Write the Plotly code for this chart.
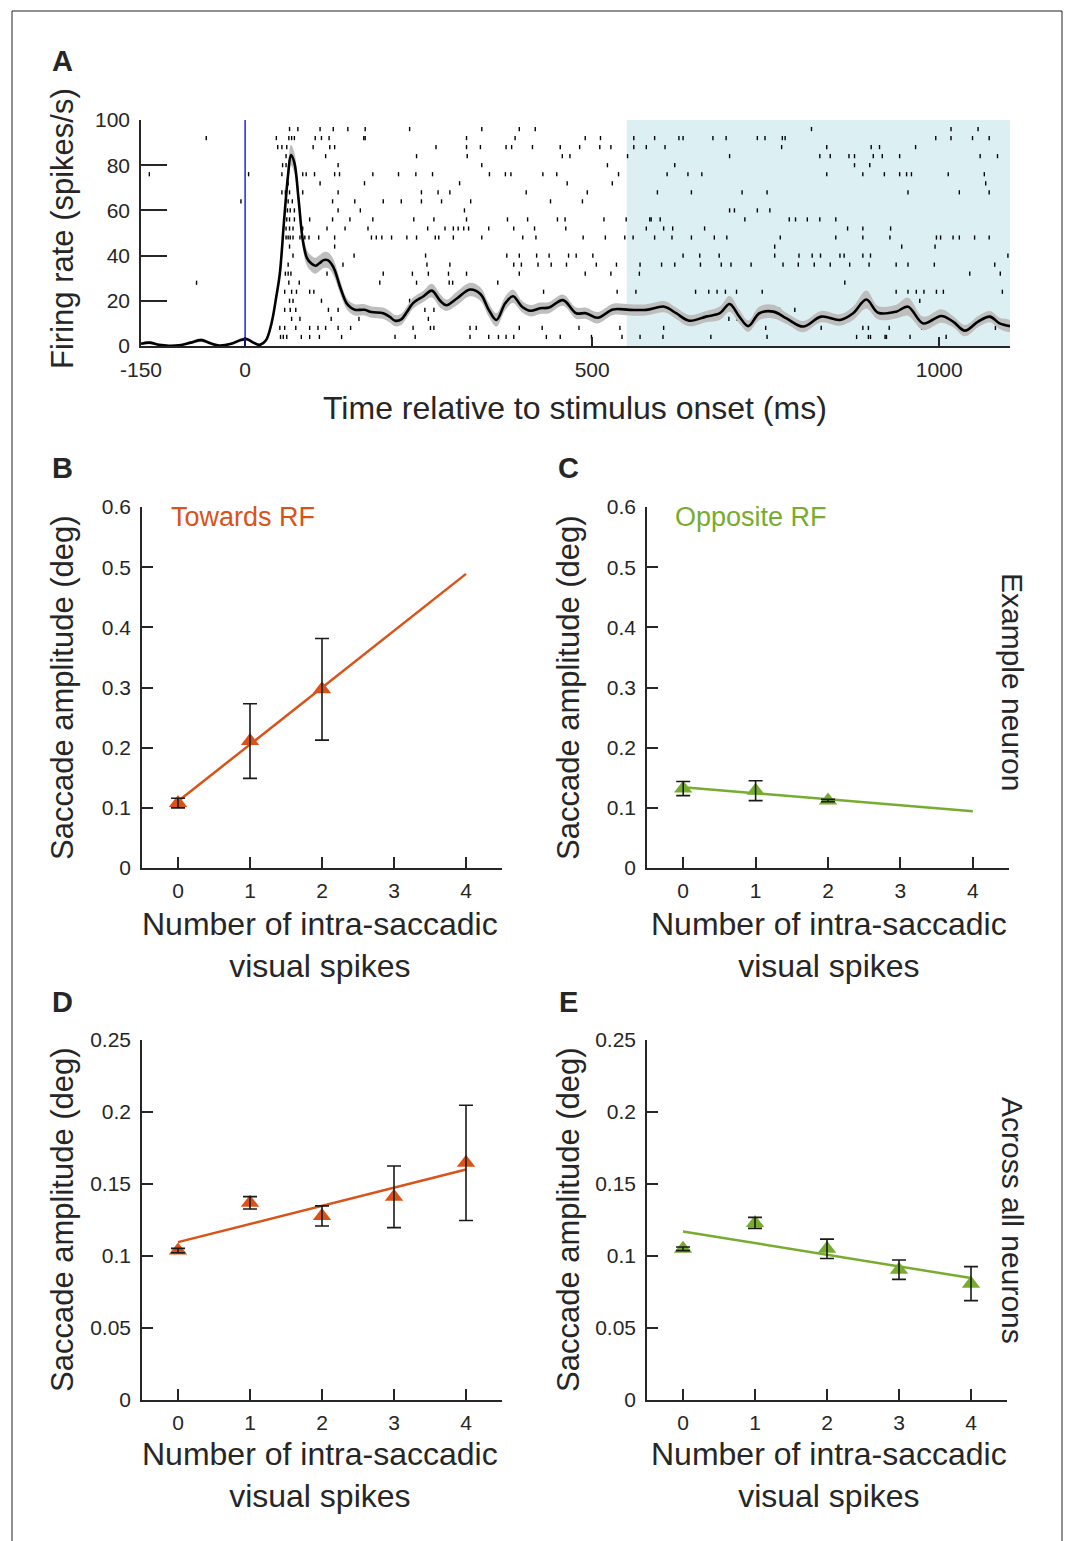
import numpy as np
import plotly.graph_objects as go

W, H = 1065, 1541
FONT = "Liberation Sans, Arial, Helvetica, sans-serif"
AX = "#262626"
ORANGE = "#D95319"
GREEN = "#77AC30"

# ---------------- Panel A data ----------------
rate_t = [-150, -138, -124, -110, -95, -78, -63, -50, -37, -20, -5, 3, 12, 21, 30, 38, 45, 50, 56, 62,
          66, 71, 77, 83, 89, 95, 101, 107, 113, 119, 124, 129, 137, 146, 152, 158, 172, 182, 199, 208,
          216, 225, 233, 242, 257, 269, 281, 290, 305, 324, 339, 351, 362, 375, 386, 399, 411, 425, 438, 458,
          477, 491, 508, 530, 554, 578, 604, 621, 640, 664, 684, 698, 712, 725, 741, 761, 780, 804, 830, 857,
          876, 895, 912, 938, 955, 977, 1003, 1020, 1037, 1056, 1073, 1087, 1102]
rate_mean = [1.0, 1.5, 0.5, 0.1, 0.3, 1.5, 2.6, 1.2, 0.2, 1.0, 2.8, 3.0, 1.5, 0.5, 2.5, 10, 22, 32, 55, 76,
             84.5, 81, 65, 47, 39, 36.6, 35.5, 36.6, 38, 38, 36.5, 33.6, 26, 19, 17, 16, 16, 15, 14.5, 13,
             11.2, 11.8, 15, 19, 22, 24.5, 20, 18, 21, 25, 23, 16, 11.5, 19, 22, 17.4, 15.6, 16.7, 17, 20.3,
             14.5, 14.5, 12.5, 16.2, 16, 16, 17.4, 14.5, 11.2, 13, 14.5, 18.6, 13, 8.8, 14.5, 15.2, 12.2, 8.6, 13, 11.5,
             14.5, 20.6, 14.7, 15.2, 17.4, 10, 13.3, 10.8, 6.8, 10.8, 13, 10, 8.8]
rate_sem = [0.6, 0.7, 0.4, 0.2, 0.3, 0.6, 0.8, 0.6, 0.3, 0.5, 0.8, 0.8, 0.6, 0.4, 0.8, 1.5, 2.0, 2.5, 3.0, 4.0,
            4.5, 4.5, 4.0, 3.5, 3.5, 3.5, 3.5, 3.5, 3.5, 3.5, 3.5, 3.5, 3.0, 2.5, 2.5, 2.5, 2.5, 2.5, 2.5, 2.5,
            2.5, 2.5, 2.5, 2.5, 2.5, 3.0, 3.0, 2.5, 3.0, 3.0, 3.0, 3.0, 3.0, 3.0, 3.0, 2.5, 2.5, 2.5, 2.5, 2.5,
            2.5, 2.5, 2.5, 2.5, 2.5, 2.5, 2.5, 2.5, 2.5, 2.5, 3.0, 3.5, 3.0, 2.5, 3.0, 3.0, 2.5, 2.5, 2.5, 2.5,
            3.0, 4.0, 3.0, 3.0, 4.0, 3.0, 3.0, 2.5, 2.5, 2.5, 2.5, 2.5, 2.5]

# spike times (ms) per trial, trial 1 at top
raster_trials = [
    [64, 76, 108, 127, 148, 173, 237, 341, 395, 418, 816, 1017, 1056],
    [-56, 45, 63, 67, 71, 101, 110, 121, 171, 173, 319, 389, 490, 512, 560, 590, 625, 631, 674, 693, 738, 749,
     774, 778, 995, 1017, 1048, 1072],
    [47, 53, 60, 98, 122, 129, 275, 319, 339, 376, 384, 414, 454, 482, 511, 527, 560, 578, 605, 773, 838, 902,
     914, 966],
    [59, 116, 247, 320, 457, 468, 551, 698, 828, 843, 870, 878, 905, 918, 943, 1059, 1084],
    [54, 59, 134, 341, 522, 619, 878, 900],
    [-138, 5, 53, 62, 83, 88, 100, 129, 136, 184, 221, 246, 270, 352, 375, 383, 429, 449, 538, 608, 638, 658,
     838, 890, 921, 943, 953, 960, 1013, 1065],
    [62, 108, 172, 309, 464, 529, 1067],
    [53, 58, 64, 83, 134, 254, 278, 295, 405, 493, 594, 643, 716, 752, 955, 1029, 1072],
    [-6, 62, 68, 126, 158, 199, 225, 254, 283, 325, 440, 486],
    [61, 65, 71, 134, 166, 316, 698, 705, 738, 756],
    [60, 64, 71, 93, 126, 151, 184, 243, 272, 319, 378, 407, 450, 461, 517, 549, 583, 585, 598, 720, 784, 793,
     810, 828, 851],
    [59, 64, 69, 83, 118, 144, 177, 263, 288, 300, 307, 315, 322, 351, 387, 417, 462, 578, 603, 616, 662, 868,
     890, 930],
    [59, 62, 65, 69, 79, 86, 92, 106, 129, 182, 189, 197, 211, 233, 247, 274, 279, 300, 341, 400, 419, 487, 519,
     547, 559, 590, 615, 643, 676, 694, 771, 851, 890, 929, 996, 1002, 1020, 1029, 1051, 1072],
    [64, 129, 763, 946, 994],
    [69, 112, 116, 157, 260, 377, 395, 420, 438, 466, 477, 501, 631, 655, 683, 763, 798, 817, 829, 857, 863,
     890, 901, 1099],
    [62, 113, 141, 262, 295, 387, 398, 422, 441, 463, 506, 535, 569, 600, 619, 656, 686, 700, 729, 775, 797,
     820, 843, 871, 899, 938, 955, 993, 1080],
    [58, 62, 66, 118, 199, 241, 264, 293, 319, 395, 490, 527, 568, 1044, 1088],
    [-70, 63, 78, 194, 247, 294, 299, 364, 864],
    [57, 67, 74, 93, 99, 430, 536, 563, 649, 668, 680, 692, 708, 745, 938, 955, 967, 978, 996, 1006, 1091],
    [64, 69, 110, 237, 278, 972],
    [57, 65, 73, 120, 134, 259, 272, 770, 792],
    [67, 79, 124, 164, 264, 697, 709],
    [50, 57, 73, 93, 105, 116, 134, 152, 242, 267, 272, 324, 333, 395, 428, 481, 540, 603, 724, 750, 830, 890,
     898, 928, 975, 1081],
    [51, 55, 60, 81, 93, 107, 139, 216, 245, 324, 351, 365, 376, 387, 434, 454, 499, 543, 569, 602, 671, 752,
     881, 898, 901, 922, 924, 958, 1010],
]
stim_onset = 0
analysis_window = [550, 1102]
time_range = [-150, 1102]
time_ticks = [-150, 0, 500, 1000]
time_labels = ["-150", "0", "500", "1000"]
rate_range = [0, 100]
rate_ticks = [0, 20, 40, 60, 80, 100]

# ---------------- Panels B-E data ----------------
n_spikes = [0, 1, 2, 3, 4]
ex_towards_mean = [0.108, 0.211, 0.297]
ex_towards_err = [0.008, 0.062, 0.0845]
ex_opp_mean = [0.132, 0.1285, 0.112]
ex_opp_err = [0.0117, 0.0166, 0.002]
all_towards_mean = [0.1038, 0.1369, 0.1278, 0.1411, 0.1647]
all_towards_err = [0.0015, 0.0043, 0.007, 0.0214, 0.040]
all_opp_mean = [0.105, 0.123, 0.105, 0.0905, 0.0808]
all_opp_err = [0.0013, 0.0038, 0.0067, 0.0067, 0.0118]
ex_amp_ticks = [0, 0.1, 0.2, 0.3, 0.4, 0.5, 0.6]
ex_amp_labels = ["0", "0.1", "0.2", "0.3", "0.4", "0.5", "0.6"]
all_amp_ticks = [0, 0.05, 0.1, 0.15, 0.2, 0.25]
all_amp_labels = ["0", "0.05", "0.1", "0.15", "0.2", "0.25"]


def px(x):
    return x / W


def py(y):
    return 1 - y / H


fig = go.Figure()

# ---- Panel A ----
rx, ry = [], []
for i, trial in enumerate(raster_trials):
    for s in trial:
        rx.append(s)
        ry.append(96 - 4 * i)
fig.add_trace(go.Scatter(x=rx, y=ry, mode="markers", xaxis="x", yaxis="y",
                         marker=dict(symbol="line-ns", size=3, line=dict(width=1.4, color="black")),
                         hoverinfo="skip", showlegend=False))

t = np.array(rate_t, dtype=float)
m = np.array(rate_mean)
s = np.array(rate_sem)
fig.add_trace(go.Scatter(x=np.concatenate([t, t[::-1]]), y=np.concatenate([m + s, (m - s)[::-1]]),
                         mode="lines", fill="toself", fillcolor="#BEBEBE",
                         line=dict(width=0, shape="spline", smoothing=1), xaxis="x", yaxis="y",
                         hoverinfo="skip", showlegend=False))
fig.add_trace(go.Scatter(x=t, y=m, mode="lines", line=dict(color="black", width=2.6, shape="spline", smoothing=1),
                         xaxis="x", yaxis="y", showlegend=False))


def add_panel(xa, ya, means, errs, color):
    xs = n_spikes[:len(means)]
    k, b = np.polyfit(xs, means, 1)
    fx = np.array([n_spikes[0], n_spikes[-1]], dtype=float)
    fig.add_trace(go.Scatter(x=fx, y=k * fx + b, mode="lines", line=dict(color=color, width=2.5),
                             xaxis=xa, yaxis=ya, showlegend=False))
    fig.add_trace(go.Scatter(x=xs, y=means, mode="markers",
                             marker=dict(symbol="triangle-up", size=16, color=color),
                             xaxis=xa, yaxis=ya, showlegend=False))
    fig.add_trace(go.Scatter(x=xs, y=means, mode="markers", marker=dict(size=1, color="rgba(0,0,0,0)"),
                             error_y=dict(type="data", array=errs, visible=True, color="#1a1a1a",
                                          thickness=1.6, width=7),
                             xaxis=xa, yaxis=ya, showlegend=False))


add_panel("x2", "y2", ex_towards_mean, ex_towards_err, ORANGE)
add_panel("x3", "y3", ex_opp_mean, ex_opp_err, GREEN)
add_panel("x4", "y4", all_towards_mean, all_towards_err, ORANGE)
add_panel("x5", "y5", all_opp_mean, all_opp_err, GREEN)

tickfont = dict(family=FONT, size=21, color=AX)
base = dict(showline=True, linecolor=AX, linewidth=1.5, ticks="inside", tickcolor=AX, tickwidth=1.5,
            showgrid=False, zeroline=False, tickfont=tickfont, fixedrange=True, automargin=False)

XS = 3   # x tick label standoff
YS = 5   # y tick label standoff
layout_axes = dict(
    xaxis=dict(base, domain=[px(141), px(1010)], range=time_range, anchor="y", tickvals=time_ticks,
               ticktext=time_labels, ticklen=9, ticklabelstandoff=4),
    yaxis=dict(base, domain=[py(346), py(120)], range=rate_range, anchor="x", tickvals=rate_ticks,
               ticklen=26, ticklabelstandoff=YS),
    xaxis2=dict(base, domain=[px(142), px(502)], range=[-0.5, 4.5], anchor="y2", tickvals=n_spikes,
                ticklen=11, ticklabelstandoff=XS),
    yaxis2=dict(base, domain=[py(868), py(507)], range=[0, 0.6], anchor="x2", tickvals=ex_amp_ticks,
                ticktext=ex_amp_labels, ticklen=11, ticklabelstandoff=YS),
    xaxis3=dict(base, domain=[px(647), px(1009)], range=[-0.5, 4.5], anchor="y3", tickvals=n_spikes,
                ticklen=11, ticklabelstandoff=XS),
    yaxis3=dict(base, domain=[py(868), py(507)], range=[0, 0.6], anchor="x3", tickvals=ex_amp_ticks,
                ticktext=ex_amp_labels, ticklen=11, ticklabelstandoff=YS),
    xaxis4=dict(base, domain=[px(142), px(502)], range=[-0.5, 4.5], anchor="y4", tickvals=n_spikes,
                ticklen=11, ticklabelstandoff=XS),
    yaxis4=dict(base, domain=[py(1400), py(1040)], range=[0, 0.25], anchor="x4", tickvals=all_amp_ticks,
                ticktext=all_amp_labels, ticklen=11, ticklabelstandoff=YS),
    xaxis5=dict(base, domain=[px(647), px(1007)], range=[-0.5, 4.5], anchor="y5", tickvals=n_spikes,
                ticklen=11, ticklabelstandoff=XS),
    yaxis5=dict(base, domain=[py(1400), py(1040)], range=[0, 0.25], anchor="x5", tickvals=all_amp_ticks,
                ticktext=all_amp_labels, ticklen=11, ticklabelstandoff=YS),
)

shapes = [
    dict(type="rect", xref="x", yref="y", x0=analysis_window[0], x1=analysis_window[1],
         y0=rate_range[0], y1=rate_range[1], fillcolor="#DCEFF3", line=dict(width=0), layer="below"),
    dict(type="line", xref="x", yref="y", x0=stim_onset, x1=stim_onset, y0=rate_range[0], y1=rate_range[1],
         line=dict(color="#0000E0", width=1.3), layer="above"),
    dict(type="rect", xref="paper", yref="paper", x0=px(12), x1=px(1062), y0=-0.02, y1=py(11),
         line=dict(color="#222222", width=1), fillcolor="rgba(0,0,0,0)"),
]


def ann(text, x, y, size, color=AX, angle=0, xanchor="center", bold=False):
    if bold:
        text = "<b>" + text + "</b>"
    return dict(text=text, x=px(x), y=py(y), xref="paper", yref="paper", showarrow=False,
                xanchor=xanchor, yanchor="middle", textangle=angle,
                font=dict(family=FONT, size=size, color=color))


TS = 32
annotations = [
    ann("A", 62, 61, 29, bold=True),
    ann("B", 62, 468, 29, bold=True),
    ann("C", 568, 468, 29, bold=True),
    ann("D", 62, 1002, 29, bold=True),
    ann("E", 568, 1002, 29, bold=True),
    ann("Firing rate (spikes/s)", 62, 229, 31, angle=-90),
    ann("Time relative to stimulus onset (ms)", 575, 408, TS),
    ann("Saccade amplitude (deg)", 62, 688, 31, angle=-90),
    ann("Saccade amplitude (deg)", 568, 688, 31, angle=-90),
    ann("Saccade amplitude (deg)", 62, 1220, 31, angle=-90),
    ann("Saccade amplitude (deg)", 568, 1220, 31, angle=-90),
    ann("Towards RF", 169, 517, 27, color=ORANGE, xanchor="left"),
    ann("Opposite RF", 673, 517, 27, color=GREEN, xanchor="left"),
    ann("Number of intra-saccadic<br>visual spikes", 320, 945, TS),
    ann("Number of intra-saccadic<br>visual spikes", 829, 945, TS),
    ann("Number of intra-saccadic<br>visual spikes", 320, 1475, TS),
    ann("Number of intra-saccadic<br>visual spikes", 829, 1475, TS),
    ann("Example neuron", 1013, 682, 30, angle=90),
    ann("Across all neurons", 1013, 1220, 30, angle=90),
]

fig.update_layout(width=W, height=H, margin=dict(l=0, r=0, t=0, b=0, pad=0, autoexpand=False),
                  paper_bgcolor="white", plot_bgcolor="rgba(0,0,0,0)",
                  showlegend=False, shapes=shapes, annotations=annotations,
                  font=dict(family=FONT, color=AX), **layout_axes)

fig.write_html("out.html", config={"displayModeBar": False},
               post_script="document.body.style.margin='0';")
